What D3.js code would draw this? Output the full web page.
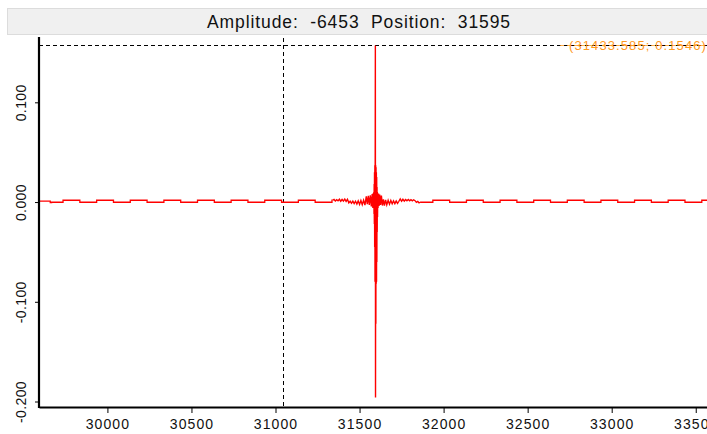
<!DOCTYPE html>
<html>
<head>
<meta charset="utf-8">
<script src="https://cdn.jsdelivr.net/npm/d3@7"></script>
<style>
  html, body { margin: 0; padding: 0; background: #ffffff; }
  svg { display: block; }
  text { font-family: "Liberation Sans", Arial, sans-serif; }
</style>
</head>
<body>
<svg id="chart" width="707" height="434"></svg>
<script>
// ---------- data ----------
const titleText = "Amplitude:  -6453  Position:  31595";
const cursorLabel = "(31433.585; 0.1546)";
const cursorX = 31045;
const cursorY = 0.157;

const xTicks = [30000, 30500, 31000, 31500, 32000, 32500, 33000, 33500];
const xTickLabels = ["30000", "30500", "31000", "31500", "32000", "32500", "33000", "33500"];
const yTicks = [-0.2, -0.1, 0.0, 0.1];
const yTickLabels = ["-0.200", "-0.100", "0.000", "0.100"];

// baseline (step-after) left of the burst
const baseLeftX = [29593, 29660, 29668, 29736, 29836, 29936, 30036, 30136, 30236, 30336, 30436, 30536, 30636, 30736, 30836, 30936, 31036, 31136, 31236, 31336, 31340];
const baseLeftY = [0.0009, -0.0006, -0.0002, 0.0018, -0.0002, 0.0018, -0.0002, 0.0018, -0.0002, 0.0018, -0.0002, 0.0018, -0.0002, 0.0018, -0.0002, 0.0018, -0.0002, 0.0018, -0.0002, 0.0018, 0.0018];

// burst around the main event (linear)
const burstX = [31340, 31348, 31356, 31364, 31372, 31380, 31388, 31396, 31404, 31412, 31420, 31428,
  31436, 31444, 31452, 31460, 31468, 31476, 31484, 31492, 31500, 31508, 31516, 31524, 31532,
  31540, 31546, 31552, 31558, 31564, 31570, 31575, 31579, 31582,
  31584, 31585, 31586, 31587, 31588, 31589, 31590, 31591, 31592, 31593, 31594, 31595, 31596,
  31597, 31598, 31599, 31600, 31601, 31602, 31603, 31604, 31605, 31606, 31607, 31608,
  31610, 31613, 31616, 31620, 31625, 31630,
  31636, 31642, 31648, 31655, 31662, 31670, 31678, 31686, 31694, 31702, 31710, 31718, 31726, 31734,
  31742, 31750, 31758, 31766, 31774, 31782, 31790, 31798, 31806, 31814, 31822, 31830,
  31838, 31846, 31854, 31860];
const burstY = [0.0018, 0.0026, 0.0010, 0.0024, 0.0012, 0.0028, 0.0008, 0.0026, 0.0010, 0.0030, 0.0006, 0.0028,
  -0.0008, 0.0008, -0.0012, 0.0010, -0.0016, 0.0008, -0.0020, 0.0012, -0.0024, 0.0016, -0.0026, 0.0018, -0.0030,
  0.0058, -0.0020, 0.0062, -0.0030, 0.0068, -0.0045, 0.0080, -0.0060, 0.0090,
  -0.0060, 0.0100, -0.0120, 0.0180, -0.0220, 0.0300, -0.0450, 0.0370, -0.0800, 0.0360, 0.1570, -0.1960, 0.0370,
  -0.1220, 0.0350, -0.0820, 0.0300, -0.0800, 0.0250, -0.0600, 0.0150, -0.0300, 0.0100, -0.0150, 0.0080,
  -0.0060, 0.0085, -0.0040, 0.0075, -0.0030, 0.0065,
  -0.0035, 0.0028, -0.0036, 0.0022, -0.0028, 0.0018, -0.0022, 0.0015, -0.0018, 0.0012, -0.0016, 0.0010, -0.0014, 0.0008,
  0.0032, 0.0008, 0.0028, 0.0010, 0.0026, 0.0012, 0.0025, 0.0012, 0.0024, 0.0013, 0.0023, 0.0014,
  -0.0002, 0.0006, -0.0008, -0.0002];

// baseline (step-after) right of the burst
const baseRightX = [31860, 31936, 32036, 32136, 32236, 32336, 32436, 32536, 32636, 32736, 32836, 32936, 33036, 33136, 33236, 33336, 33436, 33536, 33567];
const baseRightY = [-0.0002, 0.0018, -0.0002, 0.0018, -0.0002, 0.0018, -0.0002, 0.0018, -0.0002, 0.0018, -0.0002, 0.0018, -0.0002, 0.0018, -0.0002, 0.0018, -0.0002, 0.0018, 0.0018];

// ---------- drawing ----------
(function draw() {
const svg = d3.select("#chart");
const pL = 39, pR = 707, pT = 37, pB = 407;

const x = d3.scaleLinear().domain([29593, 33567]).range([pL, pR]);
const y = d3.scaleLinear().domain([-0.2055, 0.1655]).range([pB, pT]);

// title bar
svg.append("rect")
  .attr("x", 7.5).attr("y", 8.5).attr("width", 700).attr("height", 26)
  .attr("fill", "#f0f0f0").attr("stroke", "#dcdcdc").attr("stroke-width", 1);
svg.append("text")
  .attr("x", 359).attr("y", 27.5)
  .attr("text-anchor", "middle")
  .attr("font-size", 17.5)
  .attr("letter-spacing", "0.9px")
  .attr("fill", "#111")
  .style("white-space", "pre")
  .text(titleText);

// clip
svg.append("clipPath").attr("id", "plotclip")
  .append("rect").attr("x", pL).attr("y", pT).attr("width", pR - pL).attr("height", pB - pT);

const cy = Math.round(y(cursorY)) + 0.5;

// crosshair
svg.append("line")
  .attr("x1", Math.round(x(cursorX)) + 0.5).attr("x2", Math.round(x(cursorX)) + 0.5)
  .attr("y1", pT + 1).attr("y2", pB)
  .attr("stroke", "#000").attr("stroke-width", 1).attr("stroke-dasharray", "4,3");
svg.append("line")
  .attr("x1", pL).attr("x2", pR)
  .attr("y1", cy).attr("y2", cy)
  .attr("stroke", "#000").attr("stroke-width", 1).attr("stroke-dasharray", "4,3");

// signal
const g = svg.append("g").attr("clip-path", "url(#plotclip)");
const stepLine = d3.line().x(d => x(d[0])).y(d => y(d[1])).curve(d3.curveStepAfter);
const linLine = d3.line().x(d => x(d[0])).y(d => y(d[1]));
const zip = (a, b) => a.map((v, i) => [v, b[i]]);

g.append("path").datum(zip(baseLeftX, baseLeftY)).attr("d", stepLine)
  .attr("fill", "none").attr("stroke", "#ff0000").attr("stroke-width", 1.3);
g.append("path").datum(zip(baseRightX, baseRightY)).attr("d", stepLine)
  .attr("fill", "none").attr("stroke", "#ff0000").attr("stroke-width", 1.3);
g.append("path").datum(zip(burstX, burstY)).attr("d", linLine)
  .attr("fill", "none").attr("stroke", "#ff0000").attr("stroke-width", 1.4);

// cursor label (dashed line runs through it)
svg.append("text")
  .attr("x", 707).attr("y", cy + 4.5)
  .attr("text-anchor", "end")
  .attr("font-size", 13)
  .attr("letter-spacing", "1.1px")
  .attr("fill", "#ff9a1f")
  .text(cursorLabel);
svg.append("line")
  .attr("x1", 560).attr("x2", pR)
  .attr("y1", cy).attr("y2", cy)
  .attr("stroke", "#ff9a1f").attr("stroke-width", 1).attr("stroke-dasharray", "4,3").attr("opacity", 0.8);

// x axis
const xAxis = svg.append("g").attr("transform", `translate(0,${pB})`)
  .call(d3.axisBottom(x).tickValues(xTicks).tickSize(6).tickSizeOuter(0)
    .tickFormat((d, i) => xTickLabels[i]));
xAxis.select(".domain").attr("stroke", "#000").attr("stroke-width", 2.2);
xAxis.selectAll(".tick line").attr("stroke", "#000").attr("stroke-width", 1);
xAxis.selectAll(".tick text")
  .attr("y", 22).attr("dy", 0)
  .attr("font-size", 14).attr("letter-spacing", "1.1px")
  .attr("font-family", "'Liberation Sans', Arial, sans-serif")
  .attr("fill", "#111");

// y axis
const yAxis = svg.append("g").attr("transform", `translate(${pL},0)`)
  .call(d3.axisLeft(y).tickValues(yTicks).tickSize(4).tickSizeOuter(0)
    .tickFormat((d, i) => yTickLabels[i]));
yAxis.select(".domain").attr("stroke", "#000").attr("stroke-width", 2.2)
  .attr("d", `M0,${pT}V${pB + 1}`);
yAxis.selectAll(".tick line").attr("stroke", "#000").attr("stroke-width", 1);
yAxis.selectAll(".tick text")
  .attr("x", 0).attr("dy", 0)
  .attr("text-anchor", "middle")
  .attr("transform", "translate(-13,0) rotate(-90)")
  .attr("font-size", 14).attr("letter-spacing", "0.4px")
  .attr("font-family", "'Liberation Sans', Arial, sans-serif")
  .attr("fill", "#111");
})();
</script>
</body>
</html>
